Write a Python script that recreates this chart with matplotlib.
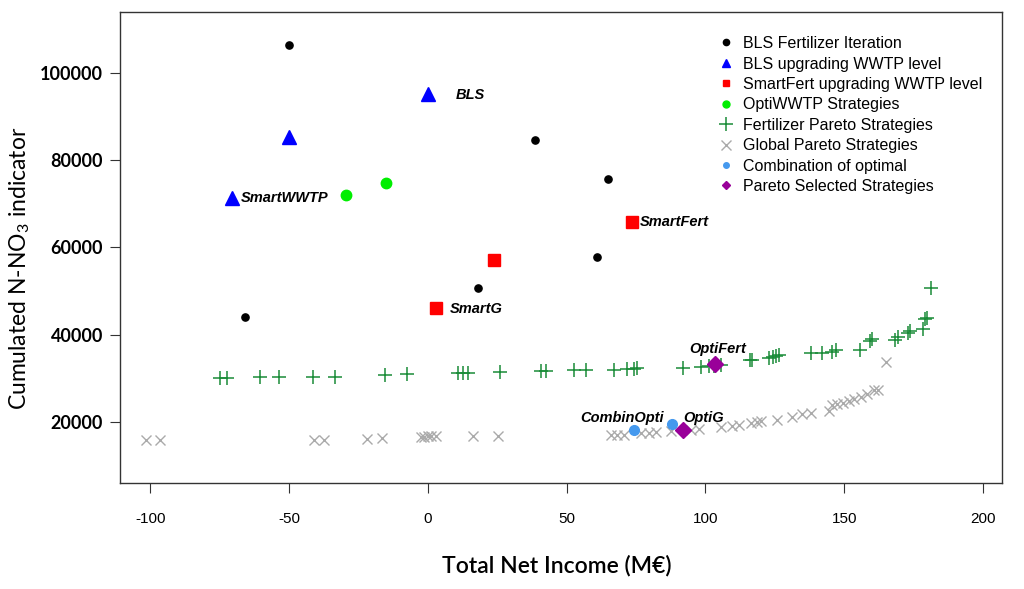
import matplotlib
matplotlib.use("Agg")
import matplotlib.pyplot as plt
from matplotlib.lines import Line2D

plt.rcParams["axes.unicode_minus"] = False

# BLS Fertilizer Iteration (black dots)
bls_fert_x = [-66, -50, 18, 38.5, 61, 65]
bls_fert_y = [44000, 106400, 50800, 84500, 57900, 75700]

# BLS upgrading WWTP level (blue triangles)
bls_wwtp_x = [-70.5, -50, 0]
bls_wwtp_y = [71400, 85300, 95200]

# SmartFert upgrading WWTP level (red squares)
smartfert_x = [3, 23.7, 73.6]
smartfert_y = [46000, 57200, 65800]

# OptiWWTP strategies (green dots)
optiwwtp_x = [-29.4, -15.2]
optiwwtp_y = [72000, 74700]

# Fertilizer Pareto strategies (green plus)
fert_pareto_x = [-74.8, -72.3, -60.5, -53.5, -41.5, -33.3, -15.3, -7.7,
                 10.7, 12.5, 14.3, 26, 40.7, 42.5, 52.7, 57,
                 67.1, 71.6, 74.3, 75.5, 92, 98.3, 101.3, 103.1, 105.5,
                 116, 116.9, 122.7, 124.5, 125.3, 126.5,
                 138, 142, 145.7, 146.9, 155.7, 159.3, 159.9,
                 168.2, 169.5, 173, 173.6, 178.5, 179.1, 179.7, 181.1]
fert_pareto_y = [30000, 30060, 30300, 30300, 30300, 30300, 30800, 31000,
                 31100, 31150, 31200, 31360, 31600, 31700, 31800, 31900,
                 32000, 32100, 32200, 32300, 32400, 32500, 32700, 32900, 33000,
                 34100, 34300, 34600, 34900, 35200, 35300,
                 35700, 35900, 36100, 36400, 36500, 38600, 39000,
                 38800, 39400, 40300, 40900, 41300, 43500, 43700, 50800]

# Global Pareto strategies (grey x)
glob_pareto_x = [-101.4, -96.7, -40.9, -37.3, -21.9, -16.5,
                 -2.4, -1.3, -0.1, 1.2, 3, 16.4, 25.4,
                 65.9, 68.3, 70.7, 76.7, 79.7, 82.1, 87.5, 94.7, 97.7,
                 105.5, 109.7, 112.1, 116.3, 118.7, 119.9,
                 125.9, 131.3, 134.9, 137.9,
                 144.5, 145.7, 147.5, 149.6, 151.7, 153.5, 155.9, 158.3,
                 160.7, 162.3, 164.9]
glob_pareto_y = [15800, 15800, 15900, 15900, 16100, 16250,
                 16500, 16600, 16700, 16700, 16800, 16800, 16800,
                 16900, 17100, 17100, 17400, 17500, 17700, 17800, 18200, 18400,
                 18800, 19000, 19200, 19700, 20000, 20300,
                 20500, 21100, 21700, 22000,
                 22600, 23800, 24200, 24300, 24800, 25300, 25700, 26400,
                 27200, 27400, 33700]

# Combination of optimal (light blue dots)
combin_x = [74.1, 88.1]
combin_y = [18100, 19600]

# Pareto selected strategies (purple diamonds)
selected_x = [103.4, 92]
selected_y = [33200, 18100]

# point labels
label_text = ["BLS", "SmartWWTP", "SmartFert", "SmartG", "OptiFert", "CombinOpti", "OptiG"]
label_x = [10, -67.5, 76.5, 8, 94, 55, 92]
label_y = [95000, 71300, 65800, 45900, 36800, 20800, 20900]

legend_labels = ["BLS Fertilizer Iteration", "BLS upgrading WWTP level",
                 "SmartFert upgrading WWTP level", "OptiWWTP Strategies",
                 "Fertilizer Pareto Strategies", "Global Pareto Strategies",
                 "Combination of optimal", "Pareto Selected Strategies"]

c_black = "#000000"
c_blue = "#0000ff"
c_red = "#ff0000"
c_lgreen = "#00ee00"
c_dgreen = "#1a8c38"
c_grey = "#aaaaaa"
c_lblue = "#4599ee"
c_purple = "#990099"

fig = plt.figure(figsize=(10.24, 5.89), dpi=100)
ax = fig.add_axes([0.117, 0.180, 0.862, 0.800])

ax.plot(glob_pareto_x, glob_pareto_y, ls="none", marker="x", ms=7.5, mew=1.0, color=c_grey)
ax.plot(fert_pareto_x, fert_pareto_y, ls="none", marker="+", ms=10, mew=1.1, color=c_dgreen)
ax.plot(bls_fert_x, bls_fert_y, ls="none", marker="o", ms=5.2, color=c_black)
ax.plot(bls_wwtp_x, bls_wwtp_y, ls="none", marker="^", ms=9.5, color=c_blue)
ax.plot(smartfert_x, smartfert_y, ls="none", marker="s", ms=8.5, color=c_red)
ax.plot(optiwwtp_x, optiwwtp_y, ls="none", marker="o", ms=7.5, color=c_lgreen)
ax.plot(combin_x, combin_y, ls="none", marker="o", ms=7, color=c_lblue)
ax.plot(selected_x, selected_y, ls="none", marker="D", ms=8.5, color=c_purple)

for t, x, y in zip(label_text, label_x, label_y):
    ax.text(x, y, t, fontsize=10.5, fontweight="bold", fontstyle="italic",
            family="Liberation Sans", ha="left", va="center")

ax.set_xlim(-111, 207)
ax.set_ylim(6000, 114000)
ax.set_xticks([-100, -50, 0, 50, 100, 150, 200])
ax.set_yticks([20000, 40000, 60000, 80000, 100000])
ax.tick_params(axis="x", length=7, pad=14, labelsize=11, color="#333333")
ax.tick_params(axis="y", length=7, pad=5, labelsize=13, color="#333333")
for lab in ax.get_xticklabels():
    lab.set_family(["Liberation Sans Narrow", "Liberation Sans"])
for lab in ax.get_yticklabels():
    lab.set_family("Lato")
    lab.set_fontweight("bold")
for s in ax.spines.values():
    s.set_color("#333333")
    s.set_linewidth(1.0)

plt.rcParams["mathtext.fontset"] = "custom"
plt.rcParams["mathtext.rm"] = "Lato"
plt.rcParams["mathtext.it"] = "Lato:italic"
ax.set_xlabel("Total Net Income (M€)", family="Lato", fontsize=16.5, fontweight="semibold")
ax.set_ylabel("Cumulated N-NO$_\\mathregular{3}$ indicator", family="Lato", fontsize=16.5)
ax.xaxis.set_label_coords(0.495, -0.152)
ax.yaxis.set_label_coords(-0.099, 0.456)

handles = [
    Line2D([], [], ls="none", marker="o", ms=4.5, color=c_black),
    Line2D([], [], ls="none", marker="^", ms=6, color=c_blue),
    Line2D([], [], ls="none", marker="s", ms=5, color=c_red),
    Line2D([], [], ls="none", marker="o", ms=5, color=c_lgreen),
    Line2D([], [], ls="none", marker="+", ms=10, mew=1.1, color=c_dgreen),
    Line2D([], [], ls="none", marker="x", ms=7.5, mew=1.0, color=c_grey),
    Line2D([], [], ls="none", marker="o", ms=4, color=c_lblue),
    Line2D([], [], ls="none", marker="D", ms=4, color=c_purple),
]
ax.legend(handles, legend_labels, loc="upper left", bbox_to_anchor=(0.670, 0.962),
          frameon=False, prop={"family": "Liberation Sans", "size": 11.5},
          labelspacing=0.34, handlelength=1.0, handletextpad=0.56, borderaxespad=0)

fig.savefig("out.png", dpi=100)
